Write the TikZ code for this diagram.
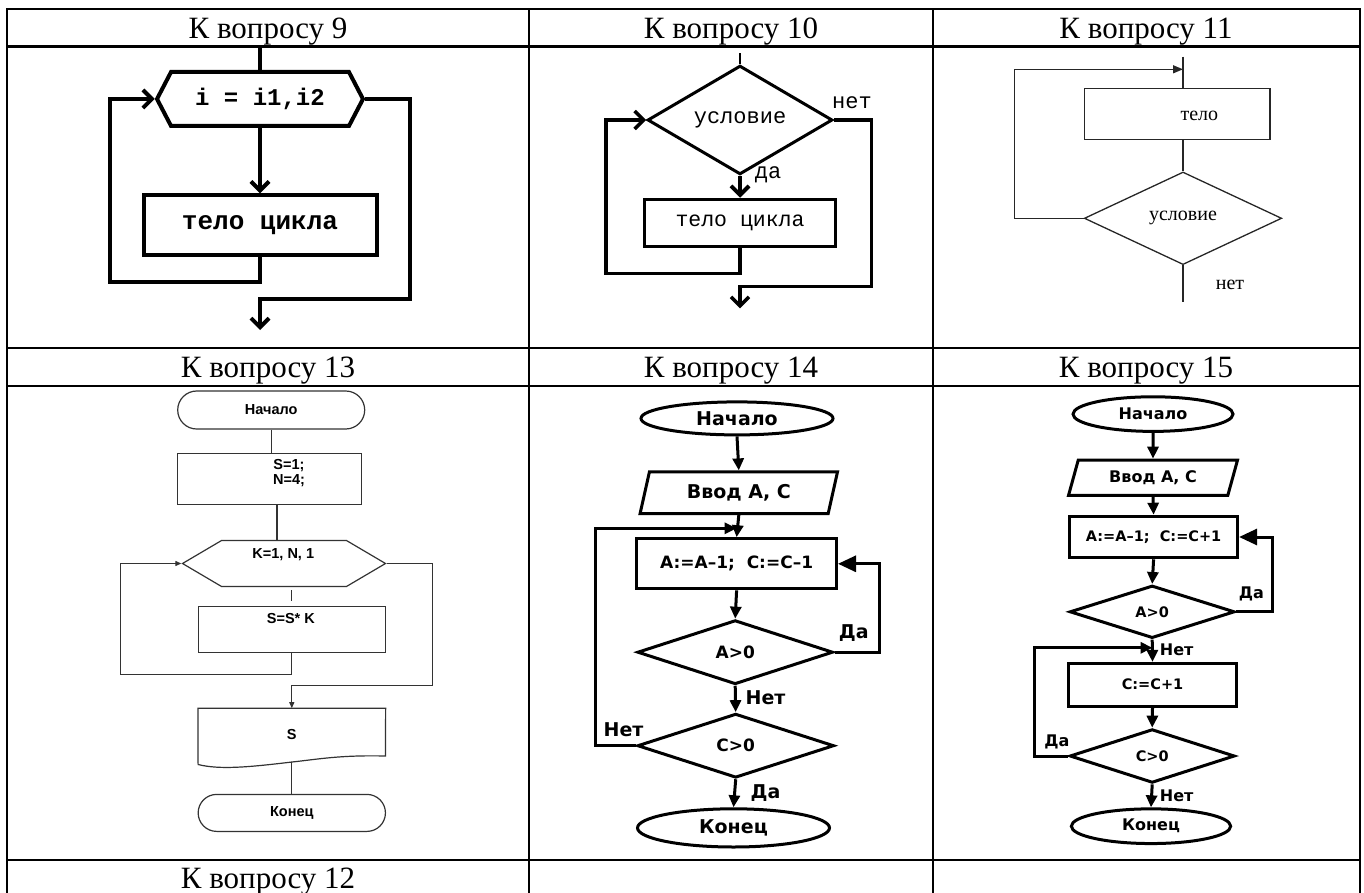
\documentclass[tikz,border=0pt]{standalone}
\usepackage{fontspec}
\setmainfont{Liberation Serif}
\newfontfamily\monofam{Liberation Mono}
\newfontfamily\arialfam{Liberation Sans}
\newfontfamily\dejafam{DejaVu Sans}
\usetikzlibrary{shapes.geometric,shapes.misc,shapes.symbols,arrows.meta,calc}
\newcommand{\fsz}[1]{\fontsize{#1}{#1}\selectfont}
\tikzset{
  tbl/.style={line width=2.6pt},
  hdr/.style={font=\fsz{31}, anchor=base},
  thk/.style={line width=4pt},
  barb/.style={-{Straight Barb[length=9pt,width=18pt]}},
  mono/.style={font=\monofam\fsz{#1}},
  monob/.style={font=\monofam\bfseries\fsz{#1}},
  hexa/.style={signal, signal to=west and east, draw, inner sep=0pt},
  thin11/.style={line width=1.3pt, draw=black!85},
  tri11/.style={-{Triangle[length=10pt,width=8pt]}},
  thin13/.style={line width=1.2pt, draw=black!80},
  tri13/.style={-{Triangle[length=6pt,width=5pt]}},
  arialb/.style={font=\arialfam\bfseries\fsz{14.5}},
  blk/.style={line width=3pt},
  tri/.style={-{Triangle[length=12pt,width=11pt]}},
  bigtri/.style={-{Triangle[length=18pt,width=16pt]}},
  dv/.style={font=\dejafam\bfseries\fsz{#1}},
  para/.style={trapezium, trapezium stretches body, draw, inner sep=0pt}
}
\begin{document}
\begin{tikzpicture}[x=1pt,y=-1pt]
\useasboundingbox (0,0) rectangle (1364,893);
% table
\draw[tbl] (7,893) -- (7,9) -- (1360,9) -- (1360,893);
\foreach \y in {46.7,348,386,860} {\draw[tbl] (7,\y) -- (1360,\y);}
\foreach \x in {529,933} {\draw[tbl] (\x,9) -- (\x,893);}
\node[hdr] (h9) at (268,38.9) {К вопросу 9};
\node[hdr] (h10) at (731,38.9) {К вопросу 10};
\node[hdr] (h11) at (1146,38.9) {К вопросу 11};
\node[hdr] (h13) at (268,377.7) {К вопросу 13};
\node[hdr] (h14) at (731,377.7) {К вопросу 14};
\node[hdr] (h15) at (1146,377.7) {К вопросу 15};
\node[hdr] (h12) at (268,888.5) {К вопросу 12};

% question 9
\node[hexa, thk, signal pointer angle=125, minimum width=206pt, minimum height=54pt, monob=24] (cyc9) at (260,99) {i = i1,i2};
\node[draw, thk, minimum width=233pt, minimum height=60pt, inner sep=0pt, monob=26] (body9) at (260,225.3) {тело цикла};
\coordinate (top9) at (260,46.7);
\coordinate (l9) at (110,282);
\coordinate (r9) at (410,299);
\coordinate (out9) at (260,330);
\draw[thk] (top9) -- (cyc9.north);
\draw[thk, barb] (cyc9.south) -- (body9.north);
\draw[thk, barb] (body9.south) |- (l9) |- (cyc9.west);
\draw[thk, barb] (cyc9.east) -| (r9) -| (out9);

% question 10
\node[diamond, draw, line width=3pt, minimum width=185pt, minimum height=87pt, inner sep=0pt, mono=22] (cond10) at (740,120) {условие};
\node[draw, line width=3.5pt, minimum width=191pt, minimum height=47pt, inner sep=0pt, mono=21.5] (body10) at (740,223) {тело цикла};
\node[mono=22] (da10) at (768,175) {да};
\node[mono=22] (net10) at (852,103) {нет};
\coordinate (top10) at (740,53.3);
\coordinate (l10) at (606,273.3);
\coordinate (r10) at (871.7,286.7);
\coordinate (out10) at (740,308.3);
\draw[line width=2pt] (top10) -- (cond10.north);
\draw[thk, barb] (cond10.south) -- (body10.north);
\draw[line width=3.5pt, barb] (body10.south) |- (l10) |- (cond10.west);
\draw[line width=3.5pt, barb] (cond10.east) -| (r10) -| (out10);

% question 11
\node[draw, thin11, minimum width=185.7pt, minimum height=51pt, inner sep=0pt] (body11) at (1177.2,113.8) {};
\node[font=\fsz{20}] (t11) at (1199.3,116) {тело};
\node[diamond, draw, thin11, minimum width=197.4pt, minimum height=92.6pt, inner sep=0pt, font=\fsz{20}] (cond11) at (1183,218.3) {условие};
\node[font=\fsz{20}] (net11) at (1230,285) {нет};
\coordinate (top11) at (1183,56.7);
\coordinate (l11) at (1014.3,69.3);
\coordinate (out11) at (1183,301.7);
\draw[thin11] (top11) -- (top11 |- body11.north);
\draw[thin11] (cond11.north |- body11.south) -- (cond11.north);
\draw[thin11, tri11] (cond11.west) -| (l11) -- (l11 -| top11);
\draw[thin11] (cond11.south) -- (out11);

% question 13
\node[rounded rectangle, draw, thin13, minimum width=187pt, minimum height=38pt, inner sep=0pt, arialb] (start13) at (271.2,410) {Начало};
\node[draw, thin13, minimum width=183.6pt, minimum height=51.3pt] (init13) at (269.4,478.9) {};
\node[font=\arialfam\bfseries\fontsize{14.5}{15.6}\selectfont, align=center] (t13b) at (289,473) {S=1;\\N=4;};
\node[hexa, thin13, signal pointer angle=61, minimum width=203pt, minimum height=46pt] (loop13) at (284,563.5) {};
\node[arialb] (t13c) at (283.3,554.3) {K=1, N, 1};
\node[draw, thin13, minimum width=187.3pt, minimum height=46pt] (mult13) at (291.8,629.3) {};
\node[arialb] (t13d) at (290.9,619) {S=S* K};
\node[minimum width=187.3pt, minimum height=53pt, inner sep=0pt, arialb] (out13) at (291.8,734.9) {S};
\draw[thin13] (out13.north west) -- (out13.north east) -- (385.4,756)
  .. controls (340,755) and (320,759) .. (292,762)
  .. controls (250,767) and (220,770) .. (198.1,764.5) -- cycle;
\node[rounded rectangle, draw, thin13, minimum width=187.3pt, minimum height=37pt, inner sep=0pt, arialb] (end13) at (291.8,812.9) {Конец};
\coordinate (l13) at (120.5,674.5);
\coordinate (r13) at (432.2,685.2);
\draw[thin13] (start13.south) -- (start13.south |- init13.north);
\draw[thin13] ([xshift=7.6pt]init13.south) -- ([xshift=7.6pt]init13.south |- loop13.north);
\draw[thin13] ([yshift=-3pt]loop13.south -| mult13.north) -- ([yshift=5pt]mult13.north);
\draw[thin13, tri13] (mult13.south) |- (l13) |- (loop13.west);
\draw[thin13, tri13] (loop13.east) -| (r13) -| (out13.north);
\draw[thin13] (out13.south) -- (end13.north);

% question 14
\node[ellipse, draw, blk, minimum width=192pt, minimum height=33pt, inner sep=0pt, dv=19] (start14) at (737,418.4) {Начало};
\node[para, blk, trapezium left angle=61, trapezium right angle=119, minimum width=197.4pt, minimum height=41.6pt, dv=19] (in14) at (738.8,492.7) {Ввод А, С};
\node[draw, blk, minimum width=199.8pt, minimum height=50.2pt, inner sep=0pt, dv=17] (assign14) at (736.6,563.8) {A:=A–1;\ \ C:=C–1};
\node[diamond, draw, blk, minimum width=195.6pt, minimum height=64.1pt, inner sep=0pt, dv=17] (cA14) at (735.2,652.2) {A>0};
\node[diamond, draw, blk, minimum width=196.6pt, minimum height=64.1pt, inner sep=0pt, dv=17] (cC14) at (735.7,745.7) {C>0};
\node[ellipse, draw, blk, minimum width=192pt, minimum height=38.2pt, inner sep=0pt, dv=19] (end14) at (733.5,827.9) {Конец};
\node[dv=19] (da14a) at (853.8,633.3) {Да};
\node[dv=19] (net14a) at (765.5,697.3) {Нет};
\node[dv=19] (net14b) at (623.5,730.2) {Нет};
\node[dv=19] (da14b) at (765.5,792.6) {Да};
\coordinate (r14) at (879.8,563.8);
\coordinate (l14) at (595.1,528.3);
\draw[blk, tri] (start14.south) -- (in14.north);
\draw[blk, tri] (in14.south) -- (assign14.north);
\draw[blk, tri] (assign14.south) -- (cA14.north);
\draw[blk, tri] (cA14.south) -- (cC14.north);
\draw[blk, tri] (cC14.south) -- (end14.north);
\draw[blk, bigtri] (cA14.east) -| (r14) -- (assign14.east);
\draw[blk, tri] (cC14.west) -| (l14) -- (l14 -| assign14.north);

% question 15
\node[ellipse, draw, blk, minimum width=160pt, minimum height=34.6pt, inner sep=0pt, dv=16] (start15) at (1153,414.1) {Начало};
\node[para, blk, trapezium left angle=55.5, trapezium right angle=124.5, minimum width=169pt, minimum height=35.3pt, dv=16] (in15) at (1153,477.8) {Ввод А, С};
\node[draw, blk, minimum width=168pt, minimum height=41.6pt, inner sep=0pt, dv=14.5] (assign15) at (1153.6,537) {A:=A–1;\ \ C:=C+1};
\node[diamond, draw, blk, minimum width=165pt, minimum height=52.6pt, inner sep=0pt, dv=14.5] (cA15) at (1152.2,611.8) {A>0};
\node[draw, blk, minimum width=168pt, minimum height=42.6pt, inner sep=0pt, dv=14.5] (body15) at (1152.5,684.7) {C:=C+1};
\node[diamond, draw, blk, minimum width=165pt, minimum height=53.7pt, inner sep=0pt, dv=14.5] (cC15) at (1152.2,756) {C>0};
\node[ellipse, draw, blk, minimum width=159.3pt, minimum height=34.7pt, inner sep=0pt, dv=16] (end15) at (1151,826.2) {Конец};
\node[dv=16] (da15a) at (1251.4,594.1) {Да};
\node[dv=16] (net15a) at (1176.6,649.5) {Нет};
\node[dv=16] (da15b) at (1057,742.4) {Да};
\node[dv=16] (net15b) at (1176.6,795.7) {Нет};
\coordinate (r15) at (1272.8,537);
\coordinate (l15) at (1034.9,647.8);
\draw[blk, tri] (start15.south) -- (in15.north);
\draw[blk, tri] (in15.south) -- (assign15.north);
\draw[blk, tri] (assign15.south) -- (cA15.north);
\draw[blk, tri] (cA15.south) -- (body15.north);
\draw[blk, tri] (body15.south) -- (cC15.north);
\draw[blk, tri] (cC15.south) -- (end15.north);
\draw[blk, bigtri] (cA15.east) -| (r15) -- (assign15.east);
\draw[blk, tri] (cC15.west) -| (l15) -- (l15 -| body15.north);
\end{tikzpicture}
\end{document}
